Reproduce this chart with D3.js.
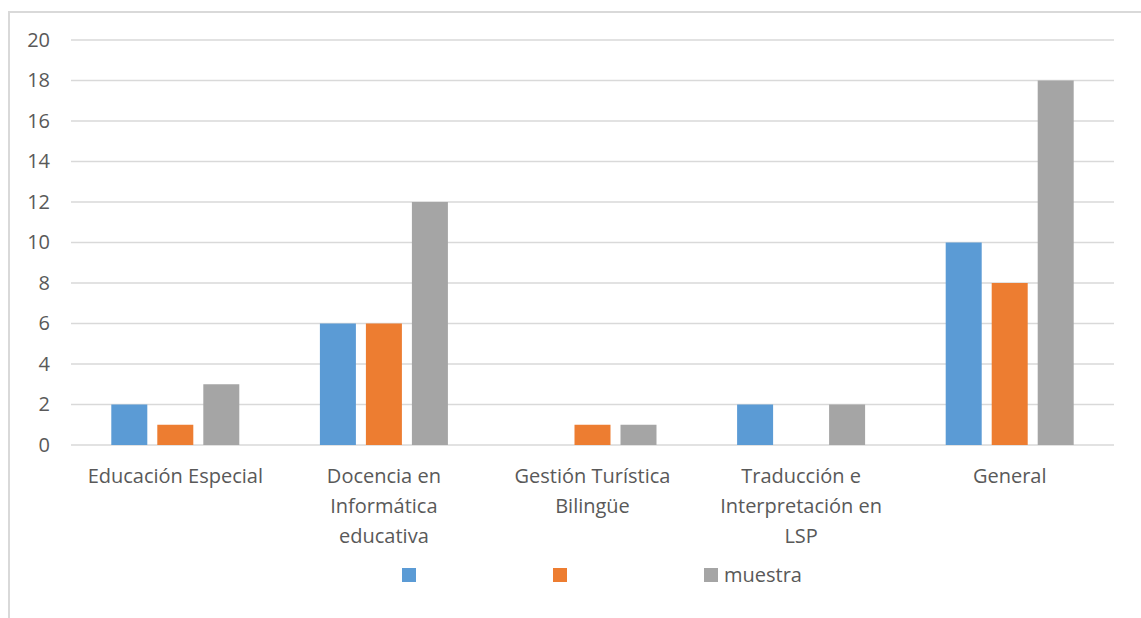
<!DOCTYPE html>
<html>
<head>
<meta charset="utf-8">
<script src="https://cdn.jsdelivr.net/npm/d3@7"></script>
<style>
  body { margin: 0; background: #fff; }
  text { font-family: "Open Sans", "Liberation Sans", sans-serif; fill: #595959; }
</style>
</head>
<body>
<div id="chart"></div>
<script>
// chart values
var categories = ["Educación Especial", "Docencia en Informática educativa", "Gestión Turística Bilingüe", "Traducción e Interpretación en LSP", "General"];
var seriesNames = ["", "", "muestra"];
var serie1 = [2, 6, 0, 2, 10];
var serie2 = [1, 6, 1, 0, 8];
var muestra = [3, 12, 1, 2, 18];
var yTicks = [0, 2, 4, 6, 8, 10, 12, 14, 16, 18, 20];
var colors = ["#5B9BD5", "#ED7D31", "#A5A5A5"];

var svgWidth = 1141;
var svgHeight = 618;

var margin = { top: 40, right: 27, bottom: 173, left: 71 };
var width = svgWidth - margin.left - margin.right;
var height = svgHeight - margin.top - margin.bottom;

var svg = d3.select("#chart")
  .append("svg")
  .attr("width", svgWidth)
  .attr("height", svgHeight);

// frame (only top and left edges are visible in the picture)
svg.append("path")
  .attr("d", "M9,618 V12 H1141")
  .attr("fill", "none")
  .attr("stroke", "#d9d9d9")
  .attr("stroke-width", 2);

var chartGroup = svg.append("g")
  .attr("transform", `translate(${margin.left}, ${margin.top})`);

var allSeries = [serie1, serie2, muestra];
var data = categories.map(function(c, i) {
  return { cat: c, values: allSeries.map((s, k) => ({ k: k, v: s[i] })) };
});

var x0 = d3.scaleBand()
  .domain(categories)
  .range([0, width])
  .paddingInner(0)
  .paddingOuter(0);

var groupWidth = 128;
var x1 = d3.scaleBand()
  .domain([0, 1, 2])
  .range([(x0.bandwidth() - groupWidth) / 2, (x0.bandwidth() + groupWidth) / 2])
  .paddingInner(10 / 46);

var y = d3.scaleLinear()
  .domain([0, 20])
  .range([height, 0]);

// gridlines
chartGroup.append("g")
  .selectAll("line")
  .data(yTicks)
  .enter()
  .append("line")
  .attr("x1", 0)
  .attr("x2", width)
  .attr("y1", d => y(d))
  .attr("y2", d => y(d))
  .attr("stroke", "#d9d9d9")
  .attr("stroke-width", 1.3);

// y axis labels
var leftAxis = d3.axisLeft(y).tickValues(yTicks).tickSize(0).tickPadding(21);
var yAxis = chartGroup.append("g").call(leftAxis);
yAxis.select(".domain").remove();
yAxis.selectAll("text")
  .attr("font-size", 20)
  .style("font-family", null)
  .attr("fill", "#595959");

// bars
var groups = chartGroup.selectAll(".cat")
  .data(data)
  .enter()
  .append("g")
  .attr("class", "cat")
  .attr("transform", d => `translate(${x0(d.cat)}, 0)`);

groups.selectAll("rect")
  .data(d => d.values.filter(e => e.v > 0))
  .enter()
  .append("rect")
  .attr("x", d => x1(d.k))
  .attr("width", x1.bandwidth())
  .attr("y", d => y(d.v))
  .attr("height", d => height - y(d.v))
  .attr("fill", d => colors[d.k]);

// category labels, wrapped
var maxLabel = 180;
function wrap(textSel) {
  textSel.each(function(d) {
    var text = d3.select(this);
    var words = d.split(" ");
    var lines = [];
    var line = [];
    var tspan = text.append("tspan");
    words.forEach(function(w) {
      line.push(w);
      tspan.text(line.join(" "));
      if (tspan.node().getComputedTextLength() > maxLabel && line.length > 1) {
        line.pop();
        lines.push(line.join(" "));
        line = [w];
      }
    });
    lines.push(line.join(" "));
    tspan.remove();
    lines.forEach(function(l, i) {
      text.append("tspan")
        .attr("x", 0)
        .attr("y", i * 30)
        .text(l);
    });
  });
}

chartGroup.selectAll(".catLabel")
  .data(categories)
  .enter()
  .append("text")
  .attr("class", "catLabel")
  .attr("transform", d => `translate(${x0(d) + x0.bandwidth() / 2}, ${height + 38})`)
  .attr("text-anchor", "middle")
  .attr("font-size", 20)
  .call(wrap);

// legend
var legendX = [402, 553, 704];
var legend = svg.append("g");
var items = legend.selectAll("g")
  .data(seriesNames)
  .enter()
  .append("g")
  .attr("transform", (d, i) => `translate(${legendX[i]}, 568)`);
items.append("rect")
  .attr("width", 14)
  .attr("height", 14)
  .attr("fill", (d, i) => colors[i]);
items.append("text")
  .attr("x", 20)
  .attr("y", 7)
  .attr("dy", "0.35em")
  .attr("font-size", 20)
  .text(d => d);
</script>
</body>
</html>
